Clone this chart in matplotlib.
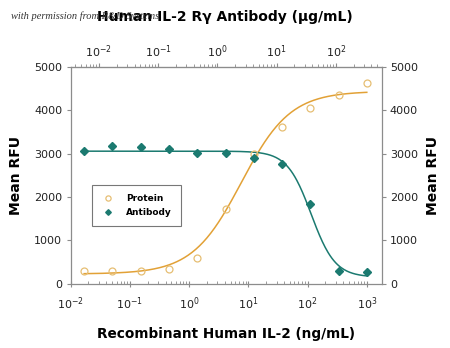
import numpy as np
import matplotlib
matplotlib.use("Agg")
import matplotlib.pyplot as plt
from matplotlib.ticker import LogLocator, NullFormatter, FixedLocator

plt.rcParams['font.family'] = ['DejaVu Sans']

# Data (x in ng/mL, 3-fold dilutions)
conc = [0.0169, 0.0508, 0.152, 0.457, 1.37, 4.12, 12.3, 37.0, 111, 333, 1000]
protein = [283, 283, 300, 330, 592, 1712, 2990, 3625, 4055, 4348, 4624]
antibody = [3057, 3172, 3157, 3103, 3026, 3026, 2896, 2765, 1836, 283, 269]

# 4PL fit parameters (bottom, top, EC50, hill)
protein_fit = [223, 4440, 7.6, 1.05]
antibody_fit = [150, 3057, 115, 2.15]

y_ticks = [0, 1000, 2000, 3000, 4000, 5000]
x_ticks = [1e-2, 1e-1, 1e0, 1e1, 1e2, 1e3]
top_ticks = [1e-2, 1e-1, 1e0, 1e1, 1e2]
ab_scale = 3.0  # protein ng/mL -> antibody ug/mL

c_prot = '#E2A136'
c_prot_m = '#E6BE73'
c_ab = '#1B7A70'
c_ax = '#8c8c8c'

fig = plt.figure(figsize=(4.5, 3.48), dpi=100)
ax = fig.add_axes([0.157, 0.185, 0.691, 0.6225])

xs = np.logspace(np.log10(conc[0]), np.log10(conc[-1]), 300)
def fpl(x, b, t, ec, h):
    return b + (t - b) / (1 + (ec / x) ** h)
def fpl_dec(x, b, t, ic, h):
    return b + (t - b) / (1 + (x / ic) ** h)

ax.plot(xs, fpl(xs, *protein_fit), color=c_prot, lw=1.1, zorder=2)
ax.plot(xs, fpl_dec(xs, *antibody_fit), color=c_ab, lw=1.1, zorder=2)
ax.plot(conc, protein, 'o', mfc='none', mec=c_prot_m, mew=0.9, ms=5, label='Protein', zorder=3)
ax.plot(conc, antibody, 'D', color=c_ab, ms=3.8, label='Antibody', zorder=4)

ax.set_xscale('log')
ax.set_xlim(1e-2, 10 ** 3.25)
ax.set_ylim(0, 5000)
ax.set_yticks(y_ticks)
ax.xaxis.set_major_locator(FixedLocator(x_ticks))
ax.xaxis.set_minor_locator(LogLocator(base=10, subs=np.arange(2, 10), numticks=20))
ax.xaxis.set_minor_formatter(NullFormatter())

for s in ax.spines.values():
    s.set_color(c_ax)
    s.set_linewidth(0.9)

ax.tick_params(axis='both', which='major', colors=c_ax, labelcolor='#222222', labelsize=8, length=3, width=0.8)
ax.tick_params(axis='x', which='minor', colors=c_ax, length=2, width=0.6, direction='in')
ax.tick_params(axis='x', which='major', direction='inout', length=5)
ax.tick_params(axis='y', which='major', pad=3, labelright=True, right=True)
ax.tick_params(axis='x', pad=6)

ax.set_ylabel('Mean RFU', fontsize=10, fontweight='bold', labelpad=8)

# right y label
fig.text(0.962, 0.496, 'Mean RFU', rotation=90, ha='center', va='center', fontsize=10, fontweight='bold')

ax.set_xlabel('Recombinant Human IL-2 (ng/mL)', fontsize=9.8, fontweight='bold', labelpad=11)

# top axis
top = ax.secondary_xaxis('top', functions=(lambda x: x / ab_scale, lambda x: x * ab_scale))
top.set_xscale('log')
top.xaxis.set_major_locator(FixedLocator(top_ticks))
top.xaxis.set_minor_locator(LogLocator(base=10, subs=np.arange(2, 10), numticks=20))
top.xaxis.set_minor_formatter(NullFormatter())
top.spines['top'].set_color(c_ax)
top.tick_params(axis='x', which='major', colors=c_ax, labelcolor='#222222', labelsize=8, length=3, width=0.8, pad=2)
top.tick_params(axis='x', which='minor', colors=c_ax, length=2, width=0.6)

fig.text(0.50, 0.952, 'Human IL-2 R\u03b3 Antibody (\u03bcg/mL)', ha='center', va='center',
         fontsize=10, fontweight='bold')
fig.text(0.025, 0.955, 'with permission from R&D Systems', ha='left', va='center',
         fontsize=7.5, style='italic', family=['Liberation Serif', 'DejaVu Serif'], color='#333333')

leg = ax.legend(loc='lower left', bbox_to_anchor=(0.068, 0.266), borderaxespad=0, fontsize=6.5,
                frameon=True, fancybox=False, edgecolor='#555555', handletextpad=1.2, borderpad=1.0,
                labelspacing=0.5, markerscale=0.75, handlelength=1.6)
leg.get_frame().set_linewidth(0.8)
for t in leg.get_texts():
    t.set_fontweight('bold')

fig.savefig('out.png', dpi=100)
